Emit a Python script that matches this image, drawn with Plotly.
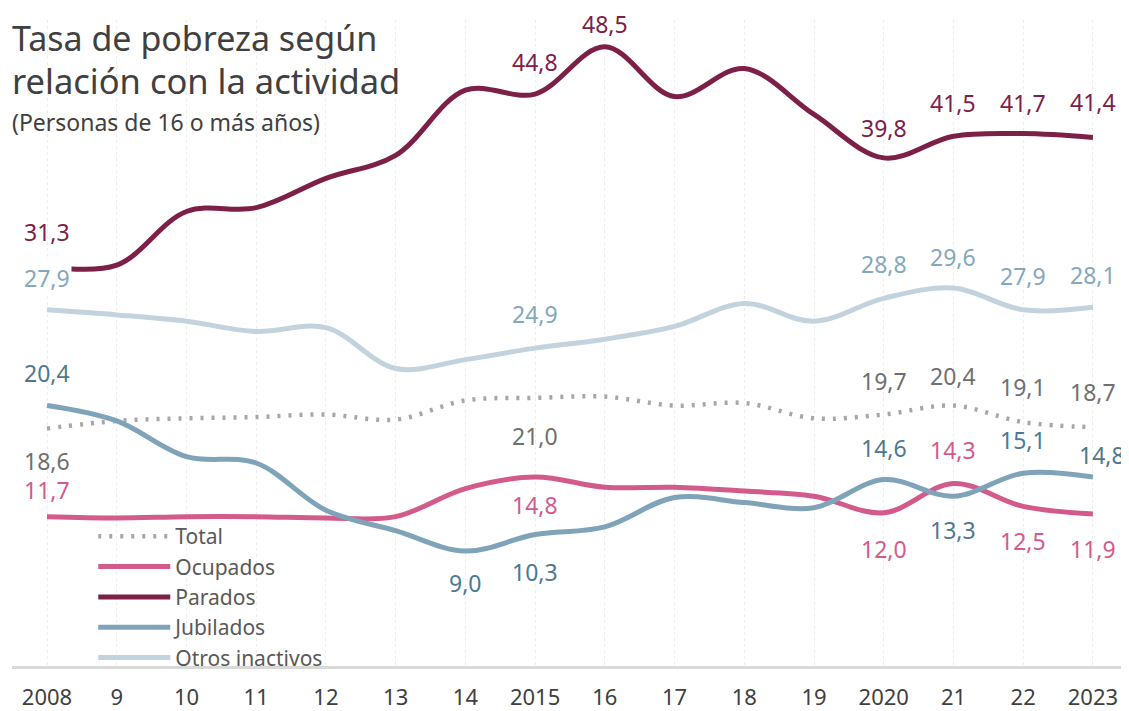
import plotly.graph_objects as go

years = list(range(2008, 2024))
tick_labels = ["2008", "9", "10", "11", "12", "13", "14", "2015", "16", "17", "18", "19", "2020", "21", "22", "2023"]

total = [18.6, 19.2, 19.4, 19.5, 19.7, 19.3, 20.8, 21.0, 21.1, 20.4, 20.6, 19.4, 19.7, 20.4, 19.1, 18.7]
ocupados = [11.7, 11.6, 11.7, 11.7, 11.6, 11.7, 13.9, 14.8, 14.0, 14.0, 13.7, 13.3, 12.0, 14.3, 12.5, 11.9]
parados = [31.3, 31.4, 35.6, 35.9, 38.2, 40.0, 45.1, 44.8, 48.5, 44.6, 46.8, 43.2, 39.8, 41.5, 41.7, 41.4]
jubilados = [20.4, 19.2, 16.4, 15.9, 12.2, 10.6, 9.0, 10.3, 10.9, 13.2, 12.8, 12.4, 14.6, 13.3, 15.1, 14.8]
otros = [27.9, 27.5, 27.0, 26.2, 26.5, 23.3, 24.0, 24.9, 25.6, 26.6, 28.4, 27.0, 28.8, 29.6, 27.9, 28.1]

title_lines = ["Tasa de pobreza según", "relación con la actividad"]
subtitle = "(Personas de 16 o más años)"

FONT = "Noto Sans"

series = [
    # name, values, line color, label color, dash
    ("Total", total, "#A9A6A6", "#707070", "3px,8px"),
    ("Ocupados", ocupados, "#D35B8C", "#D35B8C", "solid"),
    ("Parados", parados, "#7D2048", "#7D2048", "solid"),
    ("Jubilados", jubilados, "#7FA3B8", "#4E7891", "solid"),
    ("Otros inactivos", otros, "#C2D3DE", "#84A8BC", "solid"),
]

# labelled years and offsets (x shift, y shift) per series
label_spec = {
    "Total": {2008: (0, -32), 2015: (0, -38), 2020: (0, 33), 2021: (0, 30), 2022: (0, 35), 2023: (0, 35)},
    "Ocupados": {2008: (0, 27), 2015: (0, -28), 2020: (0, -36), 2021: (0, 33), 2022: (0, -35), 2023: (0, -35)},
    "Parados": {2008: (0, 34), 2015: (0, 32), 2016: (0, 23), 2020: (0, 30), 2021: (0, 33), 2022: (0, 31), 2023: (0, 35)},
    "Jubilados": {2008: (0, 33), 2014: (0, -32), 2015: (0, -37), 2020: (0, 32), 2021: (0, -34), 2022: (0, 33), 2023: (9, 22)},
    "Otros inactivos": {2008: (0, 32), 2015: (0, 34), 2020: (0, 34), 2021: (0, 31), 2022: (0, 34), 2023: (0, 32)},
}

fig = go.Figure()
for name, vals, color, lcolor, dash in series:
    fig.add_trace(go.Scatter(
        x=years, y=vals, name=name, mode="lines",
        line=dict(color=color, width=5 if name != "Total" else 4.5, shape="spline", smoothing=1.0, dash=dash),
        hoverinfo="skip",
    ))

annotations = []
for name, vals, color, lcolor, dash in series:
    for yr, (dx, dy) in label_spec[name].items():
        v = vals[years.index(yr)]
        annotations.append(dict(
            x=yr, y=v, xref="x", yref="y", text=f"{v:.1f}".replace(".", ","),
            showarrow=False, xshift=dx, yshift=dy,
            font=dict(family=FONT, size=23, color=lcolor),
            bgcolor="white" if (name == "Otros inactivos" and yr == 2008) else None,
        ))

# title block (paper coords; plot area spans 646 px in height)
annotations.append(dict(x=0, y=0.972, xref="paper", yref="paper", xanchor="left", yanchor="middle",
                        text=title_lines[0], showarrow=False, xshift=-2,
                        font=dict(family=FONT, size=34, color="#404040")))
annotations.append(dict(x=0, y=0.906, xref="paper", yref="paper", xanchor="left", yanchor="middle",
                        text=title_lines[1], showarrow=False, xshift=-2,
                        font=dict(family=FONT, size=34.5, color="#404040")))
annotations.append(dict(x=0, y=0.842, xref="paper", yref="paper", xanchor="left", yanchor="middle",
                        text=subtitle, showarrow=False, xshift=-2,
                        font=dict(family=FONT, size=23, color="#404040")))

# the page body has an 8px default margin, so the figure is 8px smaller each way
fig.update_layout(
    width=1121, height=703,
    margin=dict(l=4, r=4, t=12, b=45, autoexpand=False),
    paper_bgcolor="white", plot_bgcolor="white",
    font=dict(family=FONT, color="#404040"),
    showlegend=True,
    legend=dict(
        x=0.073, y=0.232, xanchor="left", yanchor="top",
        bgcolor="rgba(0,0,0,0)", font=dict(family=FONT, size=21, color="#595959"),
        itemwidth=72, tracegroupgap=0, traceorder="normal",
    ),
    annotations=annotations,
    xaxis=dict(
        range=[2007.498, 2023.46],
        tickmode="array", tickvals=years, ticktext=tick_labels,
        tickfont=dict(family=FONT, size=22, color="#404040"),
        showgrid=True, gridcolor="#EDEDED", griddash="dot", gridwidth=1,
        showline=True, linecolor="#D9D9D9", linewidth=3,
        zeroline=False, ticks="", ticklabelstandoff=10, automargin=False,
    ),
    yaxis=dict(
        range=[0, 50.6], showgrid=False, showticklabels=False,
        zeroline=False, showline=False, automargin=False,
    ),
)

fig.write_html("out.html")
